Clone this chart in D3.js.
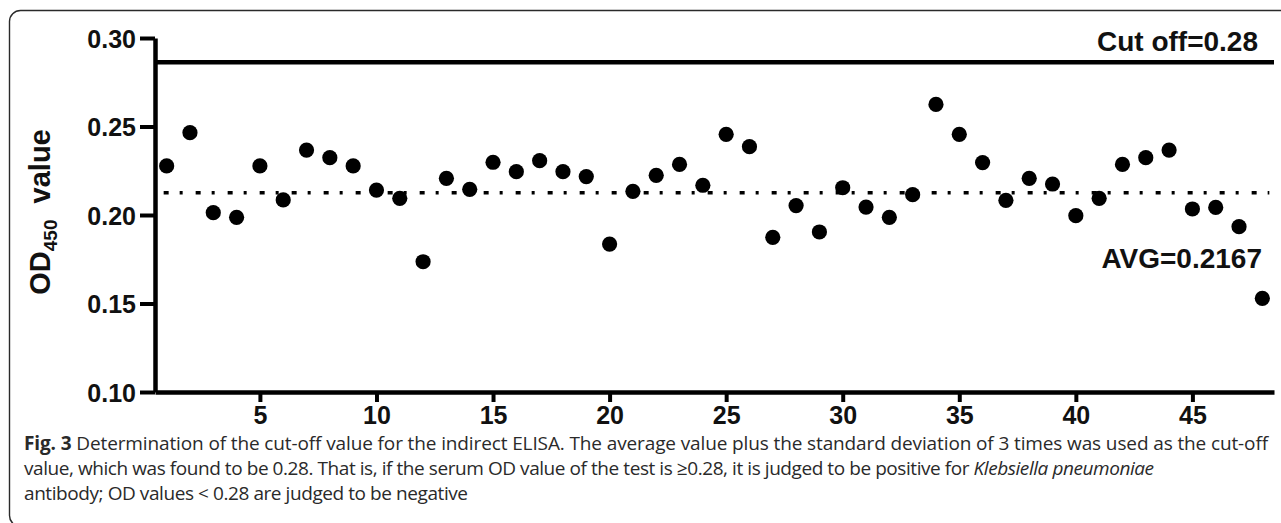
<!DOCTYPE html>
<html>
<head>
<meta charset="utf-8">
<script src="https://cdn.jsdelivr.net/npm/d3@7"></script>
<style>
  html, body { margin: 0; padding: 0; background: #fff; }
  svg { display: block; }
</style>
</head>
<body>
<svg id="chart" width="1281" height="523"></svg>
<script>
// ---- data ----
const samples = d3.range(1, 49);
const odValues = [
  0.2277, 0.2465, 0.2013, 0.1987, 0.2277, 0.2085, 0.2367, 0.2324, 0.2277, 0.2141,
  0.2094, 0.1736, 0.2207, 0.2145, 0.2298, 0.2245, 0.2307, 0.2245, 0.2217, 0.1836,
  0.2134, 0.2224, 0.2286, 0.2168, 0.2456, 0.2386, 0.1874, 0.2053, 0.1904, 0.2154,
  0.2045, 0.1987, 0.2115, 0.2625, 0.2456, 0.2296, 0.2083, 0.2207, 0.2175, 0.1996,
  0.2094, 0.2286, 0.2324, 0.2367, 0.2034, 0.2043, 0.1934, 0.1529
];
const yTicks = [0.10, 0.15, 0.20, 0.25, 0.30];
const xTicks = [5, 10, 15, 20, 25, 30, 35, 40, 45];
const cutoffLevel = 0.2863;   // drawn position of the cut-off line
const avgLevel = 0.2126;      // drawn position of the average line
const cutoffLabel = "Cut off=0.28";
const avgLabel = "AVG=0.2167";
const captionLines = [
  [{t: "Fig. 3", w: "bold"}, {t: " Determination of the cut-off value for the indirect ELISA. The average value plus the standard deviation of 3 times was used as the cut-off"}],
  [{t: "value, which was found to be 0.28. That is, if the serum OD value of the test is \u22650.28, it is judged to be positive for "}, {t: "Klebsiella pneumoniae", s: "italic"}],
  [{t: "antibody; OD values < 0.28 are judged to be negative"}]
];

// ---- layout ----
const svg = d3.select("#chart");
const x = d3.scaleLinear().domain([0.5, 48.5]).range([155, 1274]);
const y = d3.scaleLinear().domain([0.10, 0.30]).range([392, 38]);

// frame
svg.append("rect")
  .attr("x", 9.5).attr("y", 10.5).attr("width", 1320).attr("height", 516)
  .attr("rx", 11).attr("fill", "none").attr("stroke", "#2a2a2a").attr("stroke-width", 1.4);

const tickFont = "'Liberation Sans', Arial, Helvetica, sans-serif";

// y axis
const gy = svg.append("g").attr("transform", "translate(155,0)")
  .call(d3.axisLeft(y).tickValues(yTicks).tickFormat(d3.format(".2f")).tickSize(15).tickSizeOuter(0).tickPadding(4));
gy.select(".domain").attr("stroke", "#000").attr("stroke-width", 4.5);
gy.selectAll(".tick line").attr("stroke", "#000").attr("stroke-width", 4);
gy.selectAll(".tick text").attr("fill", "#111").attr("font-family", tickFont)
  .attr("font-weight", "bold").attr("font-size", 25).attr("dy", "0.36em");

// x axis
const gx = svg.append("g").attr("transform", "translate(0,392)")
  .call(d3.axisBottom(x).tickValues(xTicks).tickSize(10).tickSizeOuter(0).tickPadding(4));
gx.select(".domain").attr("stroke", "#000").attr("stroke-width", 4.5);
gx.selectAll(".tick line").attr("stroke", "#000").attr("stroke-width", 4);
gx.selectAll(".tick text").attr("fill", "#111").attr("font-family", tickFont)
  .attr("font-weight", "bold").attr("font-size", 25);

// y axis title
const title = svg.append("text")
  .attr("transform", "translate(50,212) rotate(-90)")
  .attr("text-anchor", "middle")
  .attr("font-family", tickFont).attr("font-weight", "bold").attr("font-size", 29).attr("fill", "#111");
title.append("tspan").text("OD");
title.append("tspan").attr("font-size", 19).attr("dy", 7).text("450");
title.append("tspan").attr("dy", -7).text("\u00a0 value");

// cut-off line
svg.append("line")
  .attr("x1", x(0.5)).attr("x2", x(48.5))
  .attr("y1", y(cutoffLevel)).attr("y2", y(cutoffLevel))
  .attr("stroke", "#000").attr("stroke-width", 4.5);

// average line
svg.append("line")
  .attr("x1", x(1) - 3).attr("x2", x(48.3))
  .attr("y1", y(avgLevel)).attr("y2", y(avgLevel))
  .attr("stroke", "#000").attr("stroke-width", 3.4)
  .attr("stroke-dasharray", "5,11,3,13");

// points
svg.append("g").selectAll("circle")
  .data(samples.map((s, i) => ({s, v: odValues[i]})))
  .join("circle")
  .attr("cx", d => x(d.s)).attr("cy", d => y(d.v))
  .attr("r", 7.6).attr("fill", "#000");

// annotations
svg.append("text").attr("x", 1258).attr("y", 51).attr("text-anchor", "end")
  .attr("font-family", tickFont).attr("font-weight", "bold").attr("font-size", 28).attr("fill", "#111")
  .text(cutoffLabel);
svg.append("text").attr("x", 1262).attr("y", 268).attr("text-anchor", "end")
  .attr("font-family", tickFont).attr("font-weight", "bold").attr("font-size", 28).attr("fill", "#111")
  .text(avgLabel);

// caption
const capFont = "'Open Sans', 'Noto Sans', sans-serif";
const capY = [450, 475, 500];
const capWidths = [1244, 1130, 444];
captionLines.forEach((line, i) => {
  const t = svg.append("text").attr("x", 24).attr("y", capY[i])
    .attr("font-family", capFont).attr("font-size", 19).attr("fill", "#2a2a2a");
  line.forEach(seg => {
    t.append("tspan")
      .attr("font-weight", seg.w || "normal")
      .attr("font-style", seg.s || "normal")
      .text(seg.t);
  });
  // stretch letter spacing so the line spans the measured width
  const w = t.node().getComputedTextLength();
  const n = line.reduce((a, s) => a + s.t.length, 0);
  const ls = (capWidths[i] - w) / Math.max(1, n - 1);
  t.attr("letter-spacing", ls.toFixed(3));
});
</script>
</body>
</html>
